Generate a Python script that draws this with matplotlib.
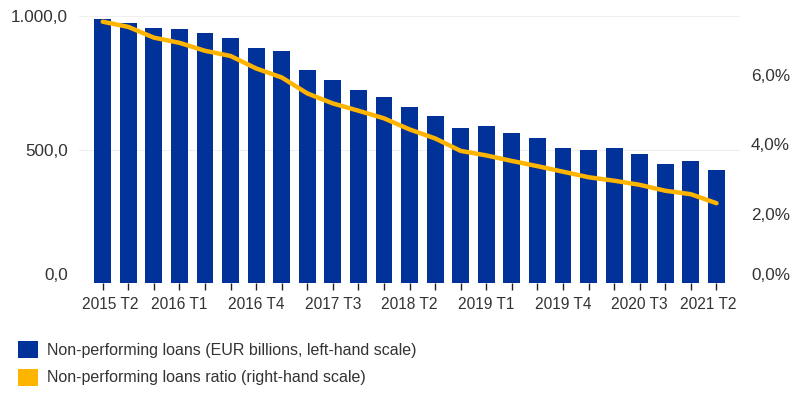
import numpy as np
import matplotlib.pyplot as plt
from matplotlib.patches import Patch
from matplotlib.ticker import FuncFormatter
from matplotlib.transforms import ScaledTranslation

plt.rcParams['font.family'] = ['Liberation Sans', 'DejaVu Sans']

# quarters 2015 T2 .. 2021 T2
quarters = ['2015 T2', '2015 T3', '2015 T4',
            '2016 T1', '2016 T2', '2016 T3', '2016 T4',
            '2017 T1', '2017 T2', '2017 T3', '2017 T4',
            '2018 T1', '2018 T2', '2018 T3', '2018 T4',
            '2019 T1', '2019 T2', '2019 T3', '2019 T4',
            '2020 T1', '2020 T2', '2020 T3', '2020 T4',
            '2021 T1', '2021 T2']

# NPL, EUR billions (left axis)
npl = [991, 975, 957, 951, 935, 919, 880, 870, 798, 760, 722, 698,
       658, 627, 582, 588, 561, 544, 506, 499, 506, 483, 445, 456, 422]

# NPL ratio, % (right axis)
npl_ratio = [7.54, 7.39, 7.08, 6.93, 6.70, 6.55, 6.19, 5.93, 5.47, 5.18, 4.97, 4.75,
             4.43, 4.17, 3.81, 3.68, 3.52, 3.37, 3.21, 3.05, 2.95, 2.83, 2.66, 2.56, 2.30]

label_every = 3

blue = '#003299'
yellow = '#ffb400'
txt = '#333333'

fig = plt.figure(figsize=(8, 3.94), dpi=100)
ax = fig.add_axes([0.099, 0.282, 0.826, 0.677])
x = np.arange(len(quarters))

ax.bar(x, npl, width=0.66, color=blue, zorder=2)
ax.set_ylim(0, 1000)
ax.set_xlim(-0.92, len(quarters) - 0.08)
ax.set_yticks([0, 500, 1000])
ax.yaxis.set_major_formatter(FuncFormatter(
    lambda v, p: f'{v:,.1f}'.replace(',', 'X').replace('.', ',').replace('X', '.')))
ax.grid(axis='y', color='#efefef', linewidth=0.8, zorder=0)
for s in ax.spines.values():
    s.set_visible(False)
ax.tick_params(axis='y', length=0, labelsize=12.3, labelcolor=txt, pad=8)
ax.set_xticks(x)
ax.set_xticklabels([q if i % label_every == 0 else '' for i, q in enumerate(quarters)])
ax.tick_params(axis='x', length=5, width=1, color='#222222', labelsize=11.2,
               labelcolor=txt, pad=5)

ax2 = ax.twinx()
ax2.plot(x, npl_ratio, color=yellow, linewidth=3.2, solid_capstyle='round', zorder=3)
ax2.set_ylim(0, 7.7)
ax2.set_yticks([0, 2, 4, 6])
ax2.yaxis.set_major_formatter(FuncFormatter(lambda v, p: f'{v:.1f}%'.replace('.', ',')))
for s in ax2.spines.values():
    s.set_visible(False)
ax2.tick_params(axis='y', length=0, labelsize=12.3, labelcolor=txt, pad=8)

# zero labels sit a little above the baseline, end x labels kept inside the plot
up = ScaledTranslation(0, 9 / 100, fig.dpi_scale_trans)
for a in (ax, ax2):
    lab = a.get_yticklabels()[0]
    lab.set_transform(lab.get_transform() + up)
xl = ax.get_xticklabels()
xl[0].set_transform(xl[0].get_transform() + ScaledTranslation(8 / 100, 0, fig.dpi_scale_trans))
xl[-1].set_transform(xl[-1].get_transform() + ScaledTranslation(-8 / 100, 0, fig.dpi_scale_trans))

handles = [Patch(facecolor=blue, label='Non-performing loans (EUR billions, left-hand scale)'),
           Patch(facecolor=yellow, label='Non-performing loans ratio (right-hand scale)')]
fig.legend(handles=handles, loc='upper left', bbox_to_anchor=(0.004, 0.17),
           frameon=False, fontsize=11.5, handlelength=1.25, handleheight=1.25,
           handletextpad=0.6, labelspacing=0.65, labelcolor=txt)

fig.savefig('out.png', dpi=100)
